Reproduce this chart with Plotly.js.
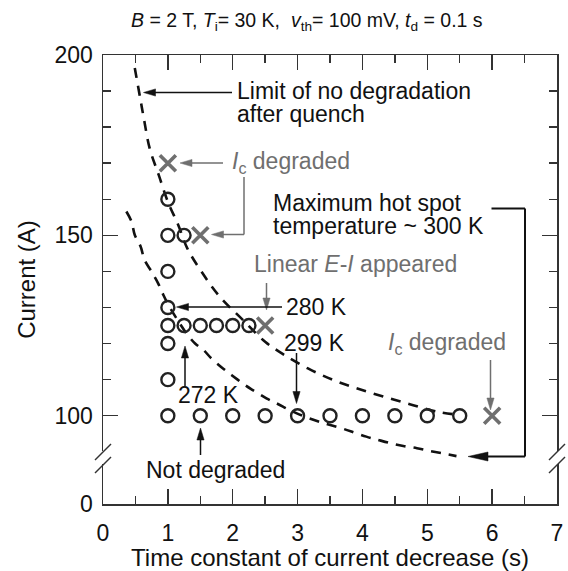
<!DOCTYPE html>
<html><head><meta charset="utf-8">
<script src="https://cdn.plot.ly/plotly-3.0.1.min.js"></script>
<style>body{margin:0;background:#fff}#chart{width:568px;height:571px}</style>
</head><body><div id="chart"></div>
<script>
// ---- data ----
const circleX = [1,1,1,1,1,1,1,1, 1.25, 1.25,1.5,1.75,2,2.25, 1.5,2,2.5,3,3.5,4,4.5,5,5.5];
const circleY = [160,150,140,130,125,120,110,100, 150, 125,125,125,125,125, 100,100,100,100,100,100,100,100,100];
const crossX = [1, 1.5, 2.5, 6];
const crossY = [170, 150, 125, 100];
// dashed curve: limit of no degradation after quench
const limX = [0.49,0.57,0.63,0.72,0.86,1.00,1.16,1.30,1.52,1.80,2.16,2.50,2.80,3.16,3.55,3.91,4.32,4.73,5.15,5.5];
const limY = [196.4,188.4,182.4,174.1,166.7,159.3,152.9,146.4,139.9,133.0,126.5,120.5,116.8,113.1,109.9,107.6,105.3,103.2,101.1,100.2];
// dashed curve: maximum hot spot temperature ~300 K
const hotX = [0.36,0.44,0.49,0.58,0.64,0.75,0.85,0.93,1.0,1.15,1.3,1.42,1.55,1.67,1.85,1.98,2.19,2.31,2.52,2.68,2.98,3.34,3.68,3.83,4.06,4.24,4.45,4.63,4.84,5.02,5.22,5.45];
const hotY = [156.6,153.8,150.1,146.9,143.2,139.9,136.7,133.5,131.0,126.5,122.5,120.0,118.2,115.9,113.1,111.3,108.5,107.1,104.8,103.4,100.7,98.3,96.5,95.6,94.2,93.3,92.3,91.6,91.0,90.3,89.6,88.8];
const xTicks = [0,1,2,3,4,5,6,7];
const yZeroPos = 75.52; // position of the broken-axis "0"
const yTickVals = [yZeroPos, 100, 150, 200];
const yTickText = ['0', '100', '150', '200'];
const yMinorVals = [110,120,130,140,160,170,180,190];

// ---- geometry helpers ----
const L = 103, R = 11, T = 55, B = 67, W = 568, H = 571;
const pw = W - L - R, ph = H - T - B;
const xr = [0, 7], yr = [yZeroPos, 200];
const sx = pw / (xr[1] - xr[0]), sy = ph / (yr[1] - yr[0]);
const BLACK = '#111', GRAY = '#6f6f6f';
const FONT = 'Liberation Sans, Arial, sans-serif';
const TS = 23;

const shapes = [], annotations = [];
function seg(x0, y0, x1, y1, color, width) {
  shapes.push({type:'line', xref:'x', yref:'y', x0, y0, x1, y1, line:{color, width}});
}
function arrow(x0, y0, x1, y1, color, width, hl, hw) {
  hl = hl || 12; hw = hw || 3.6;
  let dx = (x1 - x0) * sx, dy = -(y1 - y0) * sy;
  const len = Math.hypot(dx, dy); dx /= len; dy /= len;
  const bxp = -hl * dx, byp = -hl * dy;
  const nx = -dy * hw, ny = dx * hw;
  const toX = p => p / sx, toY = p => -p / sy;
  const bx = x1 + toX(bxp), by = y1 + toY(byp);
  seg(x0, y0, x1 + toX(-(hl - 2) * dx), y1 + toY(-(hl - 2) * dy), color, width);
  const p1 = [bx + toX(nx), by + toY(ny)], p2 = [bx - toX(nx), by - toY(ny)];
  shapes.push({type:'path', xref:'x', yref:'y',
    path:`M${x1},${y1} L${p1[0]},${p1[1]} L${p2[0]},${p2[1]} Z`,
    fillcolor: color, line:{color, width:0.5}});
}
function label(x, y, text, color, size) {
  annotations.push({xref:'x', yref:'y', x, y, text, showarrow:false, xanchor:'left', yanchor:'middle',
    align:'left', font:{family:FONT, size:size || TS, color}});
}
const px2x = p => xr[0] + (p - L) / sx;
const px2y = p => yr[1] - (p - T) / sy;

// ---- annotations ----
label(px2x(235), px2y(91), 'Limit of no degradation', BLACK);
label(px2x(235), px2y(114), 'after quench', BLACK);
arrow(px2x(232), px2y(92.5), px2x(143.5), px2y(92.5), BLACK, 1.5);

label(px2x(230), px2y(162), '<i>I</i><sub>c</sub> degraded', GRAY);
arrow(px2x(223), px2y(163), px2x(180), px2y(163), GRAY, 1.5);
seg(px2x(244), px2y(177), px2x(244), px2y(234.5), GRAY, 1.5);
arrow(px2x(244), px2y(234.5), px2x(211.5), px2y(234.5), GRAY, 1.5);

label(px2x(271), px2y(203), 'Maximum hot spot', BLACK);
label(px2x(271), px2y(226), 'temperature ~ 300 K', BLACK);
seg(px2x(491.5), px2y(208.5), px2x(525), px2y(208.5), BLACK, 2);
seg(px2x(525), px2y(208.5), px2x(525), px2y(456.5), BLACK, 2);
arrow(px2x(525), px2y(456.5), px2x(468), px2y(456.5), BLACK, 2, 20, 4.5);

label(px2x(252), px2y(263.5), 'Linear <i>E</i>-<i>I</i> appeared', GRAY);
arrow(px2x(266.5), px2y(283), px2x(266.5), px2y(310), GRAY, 1.5);

label(px2x(284), px2y(306.5), '280 K', BLACK);
arrow(px2x(282), px2y(307), px2x(176.5), px2y(307), BLACK, 1.5);

label(px2x(282), px2y(343), '299 K', BLACK);
arrow(px2x(296.5), px2y(353), px2x(296.5), px2y(403.5), BLACK, 1.5);

label(px2x(176), px2y(395), '272 K', BLACK);
arrow(px2x(185), px2y(386), px2x(185), px2y(346), BLACK, 1.5);

label(px2x(386), px2y(343.5), '<i>I</i><sub>c</sub> degraded', GRAY);
arrow(px2x(490.5), px2y(360), px2x(490.5), px2y(410), GRAY, 1.5);

label(px2x(144), px2y(470), 'Not degraded', BLACK);
arrow(px2x(200.5), px2y(455), px2x(200.5), px2y(428), BLACK, 1.5);

// title
annotations.push({xref:'paper', yref:'paper', x:(307 - L) / pw, y:(H - B - 22) / ph, xanchor:'center', yanchor:'middle',
  showarrow:false, text:'<i>B</i> = 2 T, <i>T</i><sub>i</sub>= 30 K,&nbsp;&nbsp;<i>v</i><sub>th</sub>= 100 mV, <i>t</i><sub>d</sub> = 0.1 s',
  font:{family:FONT, size:19.5, color:BLACK}});

// axis breaks
const ppx = p => (p - L) / pw, ppy = p => (H - B - p) / ph;
[L, L + pw].forEach(ax => {
  shapes.push({type:'rect', xref:'paper', yref:'paper', x0:ppx(ax - 4), x1:ppx(ax + 4), y0:ppy(464), y1:ppy(451),
    fillcolor:'#fff', line:{width:0}, layer:'above'});
  shapes.push({type:'line', xref:'paper', yref:'paper', x0:ppx(ax - 8), y0:ppy(460), x1:ppx(ax + 8), y1:ppy(444), line:{color:'#333', width:1.5}});
  shapes.push({type:'line', xref:'paper', yref:'paper', x0:ppx(ax - 8), y0:ppy(473), x1:ppx(ax + 8), y1:ppy(457), line:{color:'#333', width:1.5}});
});

const traces = [
  {x: limX, y: limY, mode:'lines', line:{color:BLACK, width:2.6, dash:'10px,8px', shape:'spline', smoothing:1}, hoverinfo:'skip'},
  {x: hotX, y: hotY, mode:'lines', line:{color:BLACK, width:2.6, dash:'10px,8px', shape:'spline', smoothing:1}, hoverinfo:'skip'},
  {x: circleX, y: circleY, mode:'markers', marker:{symbol:'circle-open', size:13, color:'#222', line:{width:2.4, color:'#222'}}},
  {x: crossX, y: crossY, mode:'markers', marker:{symbol:'x-thin', size:16, color:GRAY, line:{width:3.6, color:GRAY}}},
];

const axCommon = {showline:true, linecolor:'#333', linewidth:1.5, mirror:'ticks', ticks:'inside', ticklen:15, tickwidth:1.5,
  tickcolor:'#333', showgrid:false, zeroline:false, tickfont:{family:FONT, size:TS, color:BLACK}};

const layout = {
  width:W, height:H, margin:{l:L, r:R, t:T, b:B}, paper_bgcolor:'#fff', plot_bgcolor:'#fff', showlegend:false,
  xaxis: Object.assign({}, axCommon, {range:xr, tickmode:'array', tickvals:xTicks,
    minor:{dtick:0.5, tick0:0, ticks:'inside', ticklen:8, tickwidth:1.5, tickcolor:'#333'},
    ticklabelstandoff:8,
    title:{text:'Time constant of current decrease (s)', font:{family:FONT, size:24, color:BLACK}, standoff:6}}),
  yaxis: Object.assign({}, axCommon, {range:yr, tickmode:'array', tickvals:yTickVals, ticktext:yTickText,
    minor:{tickmode:'array', tickvals:yMinorVals, ticks:'inside', ticklen:8, tickwidth:1.5, tickcolor:'#333'},
    ticklabelstandoff:4,
    title:{text:'Current (A)', font:{family:FONT, size:24, color:BLACK}, standoff:12}}),
  shapes, annotations,
};
Plotly.newPlot('chart', traces, layout, {displayModeBar:false, staticPlot:true});
</script></body></html>
